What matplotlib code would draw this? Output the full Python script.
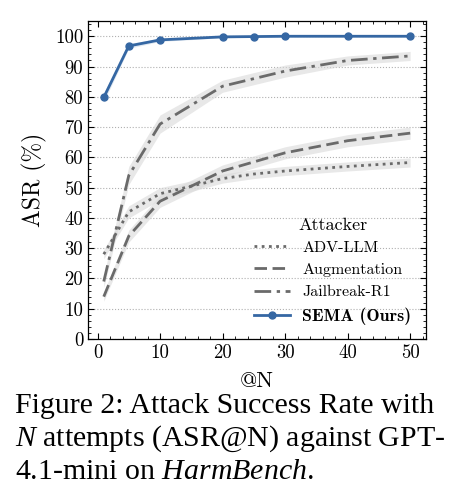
import matplotlib
matplotlib.use("Agg")
import matplotlib.pyplot as plt
import numpy as np

plt.rcParams['font.family'] = 'cmr10'
plt.rcParams['axes.formatter.use_mathtext'] = False
plt.rcParams['mathtext.fontset'] = 'custom'
plt.rcParams['mathtext.rm'] = 'Liberation Serif'
plt.rcParams['mathtext.it'] = 'Liberation Serif:italic'

# attempts N
n_values = [1, 5, 10, 20, 25, 30, 40, 50]

# ASR (%) per attacker
adv_llm = [28, 42, 48, 53, 54.5, 55.5, 57, 58.3]
augmentation = [14, 34, 45.5, 55.5, 58.5, 61.5, 65.5, 68]
jailbreak_r1 = [19, 54, 71, 83.5, 86, 88.5, 92, 93.5]
sema = [79.8, 96.8, 98.8, 99.8, 99.9, 100, 100, 100]

# spread for the shaded bands
adv_llm_std = [1.5, 2, 2, 1.5, 1.5, 1.5, 1.5, 1.5]
augmentation_std = [1.5, 2, 2, 2, 2, 2, 2, 2]
jailbreak_r1_std = [2, 3, 3, 2, 2, 2, 1.5, 1.5]
sema_std = [1.5, 0.8, 0.5, 0.3, 0.2, 0.1, 0.1, 0.1]

fig = plt.figure(figsize=(4.52, 5.03), dpi=100)
ax = fig.add_axes([0.195, 0.326, 0.747, 0.632])

x = np.array(n_values)
gray = '#6a6a6a'
series = [
    ('ADV-LLM', adv_llm, adv_llm_std, (0, (1, 1.6))),
    ('Augmentation', augmentation, augmentation_std, (0, (4.5, 2))),
    ('Jailbreak-R1', jailbreak_r1, jailbreak_r1_std, (0, (6, 2, 1.2, 2))),
]
for name, vals, std, ls in series:
    v = np.array(vals)
    s = np.array(std)
    ax.fill_between(x, v - s, v + s, color='#d9d9d9', alpha=0.6, lw=0)
    ax.plot(x, v, color=gray, ls=ls, lw=2, label=name)

v = np.array(sema)
s = np.array(sema_std)
ax.fill_between(x, v - s, v + s, color='#3a6ea5', alpha=0.15, lw=0)
ax.plot(x, v, color='#3567a3', lw=2, marker='o', ms=5, label='SEMA (Ours)')

ax.set_xlim(-1.5, 52.5)
ax.set_ylim(0, 105)
ax.set_xticks([0, 10, 20, 30, 40, 50])
ax.set_yticks(range(0, 101, 10))
ax.set_xticks(np.arange(0, 53, 2), minor=True)
ax.set_yticks(np.arange(0, 105, 2), minor=True)
ax.tick_params(which='both', direction='in', top=True, right=True, labelsize=13.5)
ax.tick_params(which='major', length=4, width=0.8)
ax.tick_params(which='minor', length=2, width=0.6)
ax.grid(axis='y', ls=':', color='#b0b0b0', lw=0.8)
ax.set_axisbelow(True)
for sp in ax.spines.values():
    sp.set_linewidth(0.9)

ax.set_xlabel('@N', fontsize=16, labelpad=7)
ax.set_ylabel('ASR (%)', fontsize=17, labelpad=6)

leg = ax.legend(title='Attacker', loc='lower right', frameon=False, fontsize=11.5,
                title_fontsize=13, handlelength=2.2, labelspacing=0.5,
                borderaxespad=0.5)
for t in leg.get_texts():
    if t.get_text() == 'SEMA (Ours)':
        t.set_fontfamily('cmb10')
        t.set_fontsize(12.8)

cap = dict(fontsize=21.5, family='Liberation Serif', ha='left', va='baseline')
fig.text(0.033, (503 - 413) / 503, 'Figure 2: Attack Success Rate with', **cap)
fig.text(0.033, (503 - 446) / 503, r'$N$ attempts (ASR@N) against GPT-', **cap)
fig.text(0.033, (503 - 479) / 503, r'4.1-mini on $HarmBench$.', **cap)

fig.savefig('out.png', dpi=100)
